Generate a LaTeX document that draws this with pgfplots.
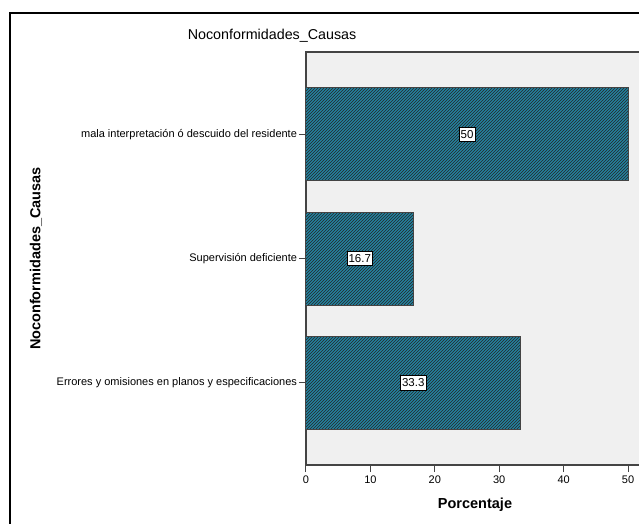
\documentclass[border=0pt]{standalone}
\usepackage{pgfplots}
\pgfplotsset{compat=1.18}
\usetikzlibrary{patterns}
\usepackage{fontspec}
\setmainfont{Liberation Sans}
\definecolor{barfill}{RGB}{35,130,160}
\definecolor{plotbg}{RGB}{240,240,240}
\definecolor{axgray}{RGB}{68,68,68}
\begin{document}
\begin{tikzpicture}[x=1pt,y=1pt]
\path[use as bounding box] (-306pt,-58pt) rectangle (333pt,465pt);
\begin{axis}[
  at={(0pt,0pt)}, anchor=south west,
  scale only axis, width=336pt, height=413pt,
  xbar, bar width=93pt,
  xmin=0, xmax=52.17, ymin=-0.66, ymax=2.66,
  xtick={0,10,20,30,40,50},
  ytick={0,1,2},
  yticklabels={Errores y omisiones en planos y especificaciones, Supervisión deficiente, mala interpretación ó descuido del residente},
  xtick pos=bottom, ytick pos=left,
  tick align=outside, major tick length=7pt,
  tick style={color=axgray, line width=1pt},
  axis line style={color=axgray, line width=1.5pt},
  axis background/.style={fill=plotbg},
  /pgf/number format/assume math mode=true,
  tick label style={font=\fontsize{11}{13}\selectfont, text=black},
  yticklabel style={xshift=1.5pt},
  xticklabel style={yshift=0pt},
  title={Noconformidades\_Causas},
  title style={at={(axis description cs:-0.101,1.0315)}, anchor=center, yshift=-3pt, font=\fontsize{14.3}{16}\selectfont},
  xlabel={\textbf{Porcentaje}},
  every axis x label/.style={at={(axis description cs:0.503,-0.092)}, anchor=center, yshift=-2pt, font=\fontsize{14.5}{16}\selectfont},
  ylabel={\textbf{Noconformidades\_Causas}},
  every axis y label/.style={at={(axis description cs:-0.8036,0.5)}, rotate=90, anchor=center, font=\fontsize{14.5}{16}\selectfont},
  clip=false,
]
\addplot[draw=axgray, line width=1pt, fill=barfill, postaction={pattern=north east lines, pattern color=black!85}] coordinates {(33.3,0) (16.7,1) (50,2)};
\addplot[only marks, mark=none, point meta=explicit symbolic, nodes near coords,
  every node near coord/.style={anchor=center, draw=black, line width=0.7pt, fill=white, inner xsep=1.5pt, inner ysep=3pt, font=\fontsize{11.5}{13}\selectfont}]
  coordinates {(16.65,0) [33.3] (8.35,1) [16.7] (25,2) [50]};
\end{axis}
\draw[line width=2pt, black] (-296pt,-80pt) -- (-296pt,452pt) -- (400pt,452pt);
\end{tikzpicture}
\end{document}
